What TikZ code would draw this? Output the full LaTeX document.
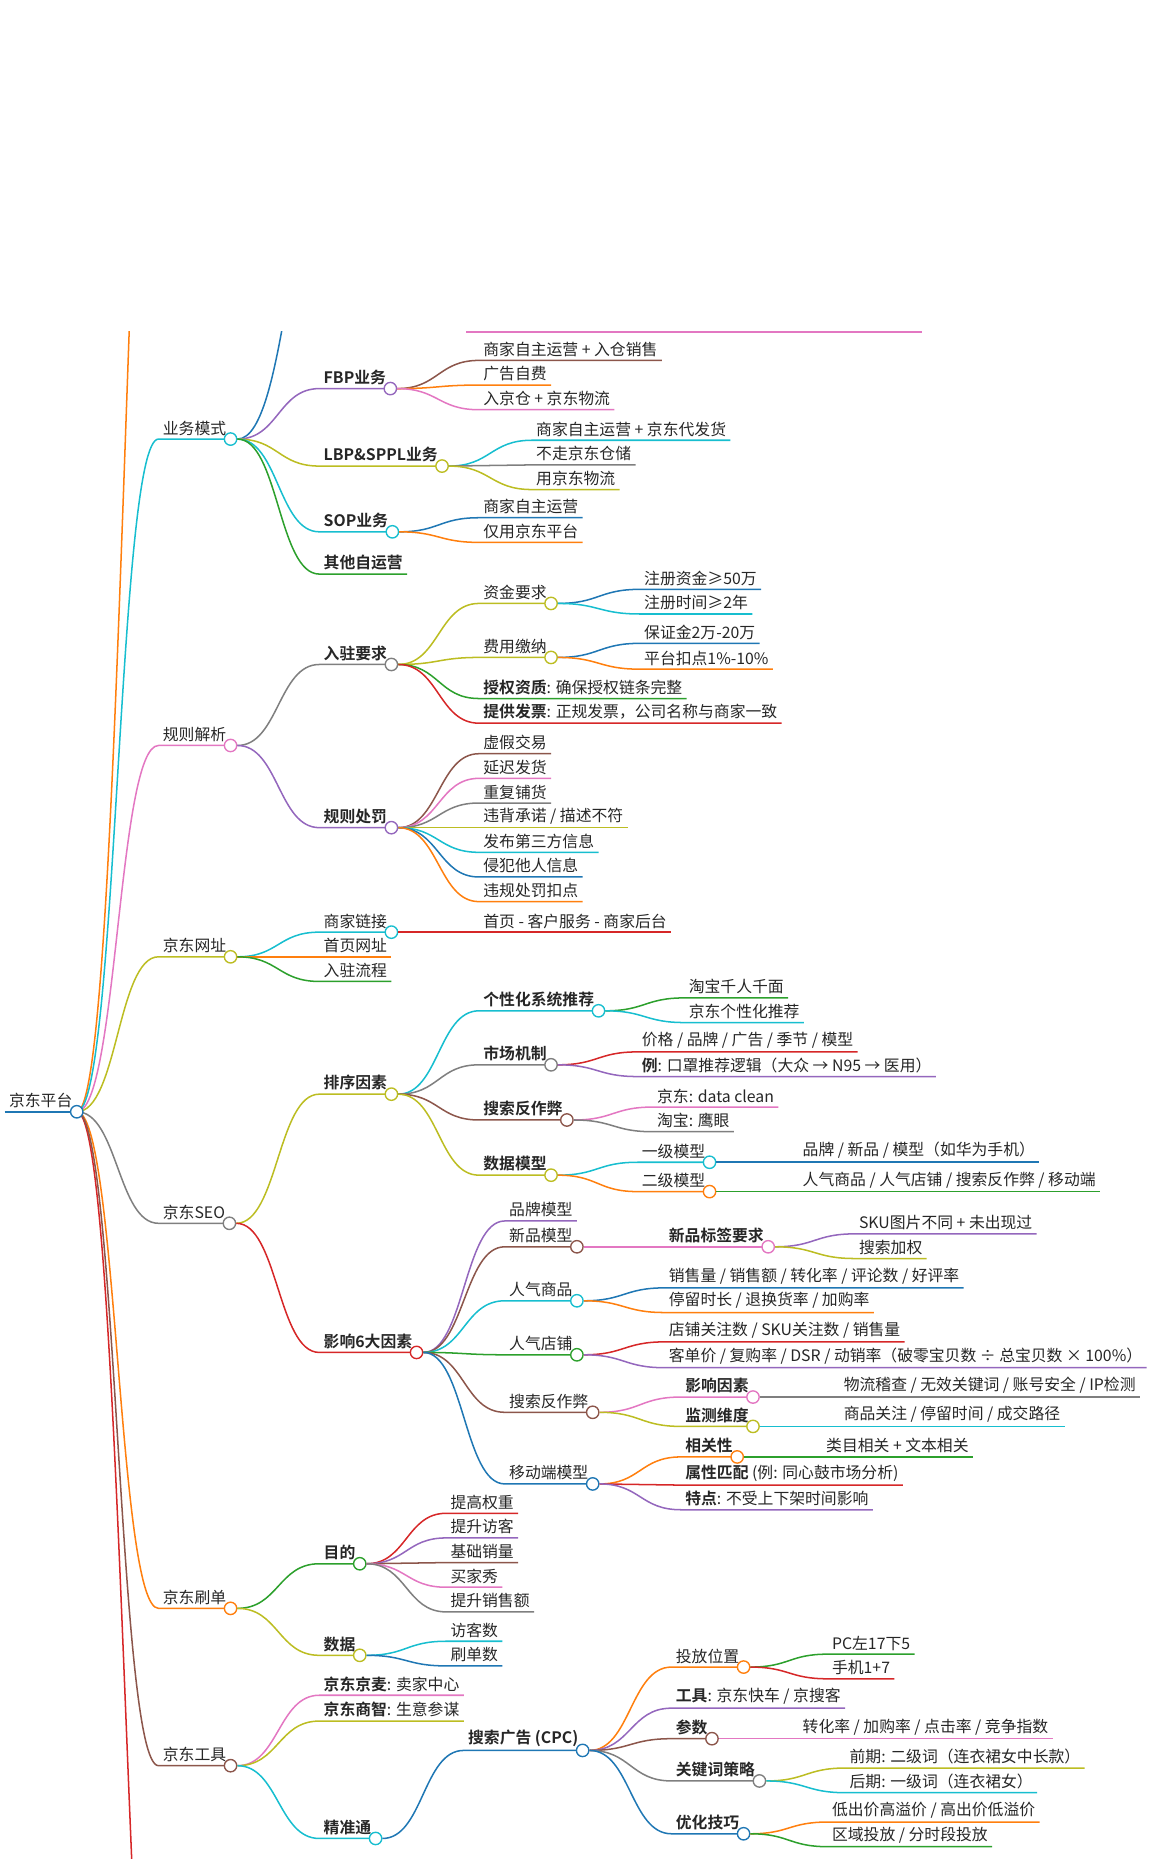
\documentclass[tikz,border=0pt]{standalone}
\usepackage{fontspec}
\setmainfont{Noto Sans CJK SC}[BoldFont={Noto Sans CJK SC Bold}]
\usetikzlibrary{calc}
\definecolor{cblue}{HTML}{1F77B4}
\definecolor{corange}{HTML}{FF7F0E}
\definecolor{cgreen}{HTML}{2CA02C}
\definecolor{cred}{HTML}{D62728}
\definecolor{cpurple}{HTML}{9467BD}
\definecolor{cbrown}{HTML}{8C564B}
\definecolor{cpink}{HTML}{E377C2}
\definecolor{cgray}{HTML}{7F7F7F}
\definecolor{colive}{HTML}{BCBD22}
\definecolor{ccyan}{HTML}{17BECF}
\tikzset{
  lbl/.style={inner xsep=3, inner ysep=2.5, font=\fontsize{11.5}{13}\selectfont, text=black!85},
  br/.style={line width=1.1pt},
  dot/.style={circle, fill=white, line width=1pt, minimum size=9, inner sep=0pt},
  sbranch/.style={to path={let \p1=(\tikztostart), \p2=(\tikztotarget) in
    .. controls ({0.5*\x1+0.5*\x2},\y1) and ({0.5*\x1+0.5*\x2},\y2) .. (\tikztotarget)}},
}
% child node + underline + connector from parent knot
\newcommand\leaf[6]{%
  \node[lbl, anchor=south west] (#1) at (#3,#4) {#6};
  \draw[#5, br] (#2) to[sbranch] (#1.south west) -- (#1.south east);}
% knot at the end of a parent's underline
\newcommand\knot[2]{\node[dot, draw=#2] (#1-c) at (#1.south east) {};}
\begin{document}
\begin{tikzpicture}[x=0.03cm, y=-0.03cm]
\useasboundingbox (0,0) rectangle (1000,1583.5);
\begin{scope}
\clip (0,282) rectangle (1000,1583.5);

% root
\node[lbl, anchor=south west] (root) at (4,947) {京东平台};
\draw[cblue, line width=1.6pt] (root.south west) -- (root.south east);
\coordinate (offa) at (150,-250);
\coordinate (offb) at (150,2000);
\draw[corange, br] (root.south east) to[sbranch] (offa);
\draw[cred, br] (root.south east) to[sbranch] (offb);

% level 1
\leaf{yw}{root.south east}{135}{374}{ccyan}{业务模式}
\leaf{gz}{root.south east}{135}{635}{cpink}{规则解析}
\leaf{wz}{root.south east}{135}{815}{colive}{京东网址}
\leaf{seo}{root.south east}{135}{1042}{cgray}{京东SEO}
\leaf{sd}{root.south east}{135}{1370}{corange}{京东刷单}
\leaf{gj}{root.south east}{135}{1504}{cbrown}{京东工具}
\knot{root}{cblue}
\knot{yw}{ccyan}\knot{gz}{cpink}\knot{wz}{colive}
\knot{seo}{cgray}\knot{sd}{corange}\knot{gj}{cbrown}

% 业务模式
\coordinate (offc) at (290,120);
\draw[cblue, br] (yw-c.east) to[sbranch] (offc);
\draw[cpink, br] (397,283) -- (785,283);
\leaf{fbp}{yw-c.east}{272}{331}{cpurple}{\textbf{FBP业务}}
\leaf{lbp}{yw-c.east}{272}{397}{colive}{\textbf{LBP\&SPPL业务}}
\leaf{sop}{yw-c.east}{272}{453}{ccyan}{\textbf{SOP业务}}
\leaf{qt}{yw-c.east}{272}{489}{cgreen}{\textbf{其他自运营}}
\knot{fbp}{cpurple}\knot{lbp}{colive}\knot{sop}{ccyan}
\leaf{fbpa}{fbp-c.east}{408}{307}{cbrown}{商家自主运营 + 入仓销售}
\leaf{fbpb}{fbp-c.east}{408}{328}{corange}{广告自费}
\leaf{fbpc}{fbp-c.east}{408}{349}{cpink}{入京仓 + 京东物流}
\leaf{lbpa}{lbp-c.east}{453}{375}{ccyan}{商家自主运营 + 京东代发货}
\leaf{lbpb}{lbp-c.east}{453}{396}{cgray}{不走京东仓储}
\leaf{lbpc}{lbp-c.east}{453}{417}{colive}{用京东物流}
\leaf{sopa}{sop-c.east}{408}{441}{cblue}{商家自主运营}
\leaf{sopb}{sop-c.east}{408}{462}{corange}{仅用京东平台}

% 规则解析
\leaf{rz}{gz-c.east}{272}{566}{cgray}{\textbf{入驻要求}}
\leaf{cf}{gz-c.east}{272}{705}{cpurple}{\textbf{规则处罚}}
\knot{rz}{cgray}\knot{cf}{cpurple}
\leaf{zj}{rz-c.east}{408}{514}{colive}{资金要求}
\leaf{fy}{rz-c.east}{408}{560}{colive}{费用缴纳}
\leaf{sq}{rz-c.east}{408}{595}{cgreen}{\textbf{授权资质}: 确保授权链条完整}
\leaf{fp}{rz-c.east}{408}{616}{cred}{\textbf{提供发票}: 正规发票，公司名称与商家一致}
\knot{zj}{colive}\knot{fy}{colive}
\leaf{zja}{zj-c.east}{545}{502}{cblue}{注册资金≥50万}
\leaf{zjb}{zj-c.east}{545}{523}{ccyan}{注册时间≥2年}
\leaf{fya}{fy-c.east}{545}{548}{cblue}{保证金2万-20万}
\leaf{fyb}{fy-c.east}{545}{570}{corange}{平台扣点1\%-10\%}
\leaf{cfa}{cf-c.east}{408}{642}{cbrown}{虚假交易}
\leaf{cfb}{cf-c.east}{408}{663}{cpink}{延迟发货}
\leaf{cfc}{cf-c.east}{408}{684}{cgray}{重复铺货}
\leaf{cfd}{cf-c.east}{408}{705}{colive}{违背承诺 / 描述不符}
\leaf{cfe}{cf-c.east}{408}{726}{ccyan}{发布第三方信息}
\leaf{cff}{cf-c.east}{408}{747}{cblue}{侵犯他人信息}
\leaf{cfg}{cf-c.east}{408}{768}{corange}{违规处罚扣点}

% 京东网址
\leaf{lj}{wz-c.east}{272}{794}{ccyan}{商家链接}
\leaf{sy}{wz-c.east}{272}{815}{corange}{首页网址}
\leaf{lc}{wz-c.east}{272}{836}{cgreen}{入驻流程}
\knot{lj}{ccyan}
\leaf{lja}{lj-c.east}{408}{794}{cred}{首页 - 客户服务 - 商家后台}

% 京东SEO
\leaf{px}{seo-c.east}{272}{932}{colive}{\textbf{排序因素}}
\leaf{yx}{seo-c.east}{272}{1152}{cred}{\textbf{影响6大因素}}
\knot{px}{colive}\knot{yx}{cred}
\leaf{gx}{px-c.east}{408}{861}{ccyan}{\textbf{个性化系统推荐}}
\leaf{sc}{px-c.east}{408}{907}{cgray}{\textbf{市场机制}}
\leaf{fz}{px-c.east}{408}{954}{cbrown}{\textbf{搜索反作弊}}
\leaf{mx}{px-c.east}{408}{1001}{colive}{\textbf{数据模型}}
\knot{gx}{ccyan}\knot{sc}{cgray}\knot{fz}{cbrown}\knot{mx}{colive}
\leaf{gxa}{gx-c.east}{583}{850}{cgreen}{淘宝千人千面}
\leaf{gxb}{gx-c.east}{583}{871}{ccyan}{京东个性化推荐}
\leaf{sca}{sc-c.east}{543}{896}{cred}{价格 / 品牌 / 广告 / 季节 / 模型}
\leaf{scb}{sc-c.east}{543}{917}{cpurple}{\textbf{例}: 口罩推荐逻辑（大众 → N95 → 医用）}
\leaf{fza}{fz-c.east}{556}{943}{cpink}{京东: data clean}
\leaf{fzb}{fz-c.east}{556}{964}{cgray}{淘宝: 鹰眼}
\leaf{mxa}{mx-c.east}{543}{990}{ccyan}{一级模型}
\leaf{mxb}{mx-c.east}{543}{1015}{corange}{二级模型}
\knot{mxa}{ccyan}\knot{mxb}{corange}
\leaf{mxaa}{mxa-c.east}{680}{990}{cblue}{品牌 / 新品 / 模型（如华为手机）}
\leaf{mxba}{mxb-c.east}{680}{1015}{cgreen}{人气商品 / 人气店铺 / 搜索反作弊 / 移动端}
\leaf{pp}{yx-c.east}{430}{1040}{cpurple}{品牌模型}
\leaf{xp}{yx-c.east}{430}{1062}{cbrown}{新品模型}
\leaf{rq}{yx-c.east}{430}{1108}{ccyan}{人气商品}
\leaf{dp}{yx-c.east}{430}{1154}{cgreen}{人气店铺}
\leaf{ss}{yx-c.east}{430}{1203}{cbrown}{搜索反作弊}
\leaf{yd}{yx-c.east}{430}{1264}{cblue}{移动端模型}
\knot{xp}{cbrown}\knot{rq}{ccyan}\knot{dp}{cgreen}\knot{ss}{cbrown}\knot{yd}{cblue}
\leaf{bq}{xp-c.east}{566}{1062}{cpink}{\textbf{新品标签要求}}
\knot{bq}{cpink}
\leaf{bqa}{bq-c.east}{728}{1051}{cpurple}{SKU图片不同 + 未出现过}
\leaf{bqb}{bq-c.east}{728}{1072}{colive}{搜索加权}
\leaf{rqa}{rq-c.east}{566}{1097}{cblue}{销售量 / 销售额 / 转化率 / 评论数 / 好评率}
\leaf{rqb}{rq-c.east}{566}{1118}{corange}{停留时长 / 退换货率 / 加购率}
\leaf{dpa}{dp-c.east}{566}{1143}{cred}{店铺关注数 / SKU关注数 / 销售量}
\leaf{dpb}{dp-c.east}{566}{1165}{cpurple}{客单价 / 复购率 / DSR / 动销率（破零宝贝数 ÷ 总宝贝数 × 100\%）}
\leaf{ssa}{ss-c.east}{580}{1190}{cpink}{\textbf{影响因素}}
\leaf{ssb}{ss-c.east}{580}{1215}{colive}{\textbf{监测维度}}
\knot{ssa}{cpink}\knot{ssb}{colive}
\leaf{ssaa}{ssa-c.east}{715}{1190}{cgray}{物流稽查 / 无效关键词 / 账号安全 / IP检测}
\leaf{ssba}{ssb-c.east}{715}{1215}{ccyan}{商品关注 / 停留时间 / 成交路径}
\leaf{xg}{yd-c.east}{580}{1241}{corange}{\textbf{相关性}}
\leaf{sx}{yd-c.east}{580}{1265}{cred}{\textbf{属性匹配} (例: 同心鼓市场分析)}
\leaf{td}{yd-c.east}{580}{1286}{cpurple}{\textbf{特点}: 不受上下架时间影响}
\knot{xg}{corange}
\leaf{xga}{xg-c.east}{700}{1241}{cgreen}{类目相关 + 文本相关}

% 京东刷单
\leaf{md}{sd-c.east}{272}{1332}{cgreen}{\textbf{目的}}
\leaf{sj}{sd-c.east}{272}{1410}{colive}{\textbf{数据}}
\knot{md}{cgreen}\knot{sj}{colive}
\leaf{mda}{md-c.east}{380}{1289}{cred}{提高权重}
\leaf{mdb}{md-c.east}{380}{1310}{cpurple}{提升访客}
\leaf{mdc}{md-c.east}{380}{1331}{cbrown}{基础销量}
\leaf{mdd}{md-c.east}{380}{1352}{cpink}{买家秀}
\leaf{mde}{md-c.east}{380}{1373}{cgray}{提升销售额}
\leaf{sja}{sj-c.east}{380}{1398}{ccyan}{访客数}
\leaf{sjb}{sj-c.east}{380}{1419}{cblue}{刷单数}

% 京东工具
\leaf{jm}{gj-c.east}{272}{1444}{cpink}{\textbf{京东京麦}: 卖家中心}
\leaf{sz}{gj-c.east}{272}{1466}{colive}{\textbf{京东商智}: 生意参谋}
\leaf{jz}{gj-c.east}{272}{1566}{ccyan}{\textbf{精准通}}
\knot{jz}{ccyan}
\leaf{cpc}{jz-c.east}{395}{1491}{cblue}{\textbf{搜索广告 (CPC)}}
\knot{cpc}{cblue}
\leaf{tf}{cpc-c.east}{572}{1420}{corange}{投放位置}
\leaf{tool}{cpc-c.east}{572}{1455}{cpurple}{\textbf{工具}: 京东快车 / 京搜客}
\leaf{cs}{cpc-c.east}{572}{1481}{cbrown}{\textbf{参数}}
\leaf{gjc}{cpc-c.east}{572}{1517}{cgray}{\textbf{关键词策略}}
\leaf{yh}{cpc-c.east}{572}{1562}{cblue}{\textbf{优化技巧}}
\knot{tf}{corange}\knot{cs}{cbrown}\knot{gjc}{cgray}\knot{yh}{cblue}
\leaf{tfa}{tf-c.east}{705}{1409}{cgreen}{PC左17下5}
\leaf{tfb}{tf-c.east}{705}{1430}{cred}{手机1+7}
\leaf{csa}{cs-c.east}{680}{1481}{cpink}{转化率 / 加购率 / 点击率 / 竞争指数}
\leaf{gjca}{gjc-c.east}{720}{1506}{colive}{前期: 二级词（连衣裙女中长款）}
\leaf{gjcb}{gjc-c.east}{720}{1527}{ccyan}{后期: 一级词（连衣裙女）}
\leaf{yha}{yh-c.east}{705}{1552}{corange}{低出价高溢价 / 高出价低溢价}
\leaf{yhb}{yh-c.east}{705}{1573}{cgreen}{区域投放 / 分时段投放}
\end{scope}
\end{tikzpicture}
\end{document}
